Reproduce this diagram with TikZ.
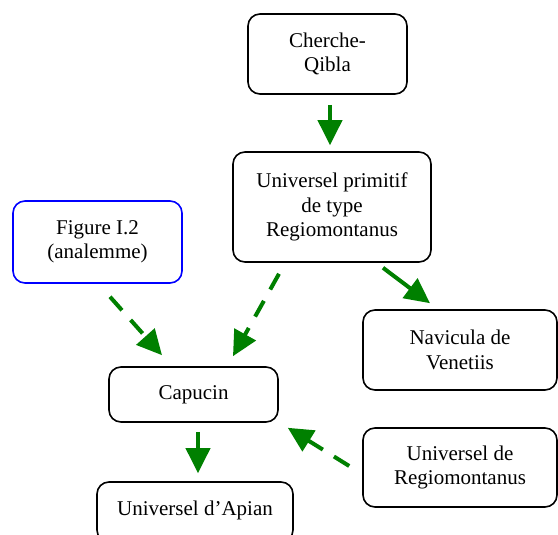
\documentclass[tikz,border=0pt]{standalone}
\usepackage{fontspec}
\setmainfont{Liberation Serif}
\usetikzlibrary{arrows.meta}
\definecolor{arrgreen}{RGB}{0,128,0}
\definecolor{boxblue}{RGB}{0,0,255}
\begin{document}
\begin{tikzpicture}[x=1pt,y=-1pt,
  box/.style={draw=black, line width=1.6pt, rounded corners=12pt, align=center,
    inner sep=0pt, font=\fontsize{21}{24.5}\selectfont},
  arr/.style={draw=arrgreen, line width=4pt, -{Triangle[length=25pt,width=24pt,fill=arrgreen]}},
  darr/.style={arr, dash pattern=on 18pt off 13pt}]
\useasboundingbox (0,0) rectangle (558,535);
\clip (0,0) rectangle (558,535);
\node[box, minimum width=159pt, minimum height=80pt] (cq) at (327.5,54) {Cherche-\\Qibla};
\node[box, minimum width=198pt, minimum height=110pt] (up) at (332,207) {Universel primitif\\de type\\Regiomontanus};
\node[box, draw=boxblue, minimum width=169pt, minimum height=82pt] (fig) at (97.5,242) {Figure I.2\\(analemme)};
\node[box, minimum width=194pt, minimum height=80pt] (nav) at (460,350) {Navicula de\\Venetiis};
\node[box, minimum width=169pt, minimum height=55pt] (cap) at (193.5,394.5) {Capucin};
\node[box, minimum width=194pt, minimum height=79pt] (reg) at (460,467.5) {Universel de\\Regiomontanus};
\node[box, minimum width=196pt, minimum height=60pt] (api) at (195,512) {};
\node[font=\fontsize{21}{24.5}\selectfont, inner sep=0pt, anchor=base] (apitxt) at (195,515) {Universel d’Apian};
\draw[arr] ([xshift=2.5pt,yshift=-10pt]cq.south) -- ([xshift=-2pt,yshift=6pt]up.north);
\draw[arr] ([xshift=51pt,yshift=-5pt]up.south) -- ([xshift=-30pt,yshift=6pt]nav.north);
\draw[darr] ([xshift=-53pt,yshift=-11pt]up.south) -- ([xshift=39.5pt,yshift=10pt]cap.north);
\draw[darr] ([xshift=12.5pt,yshift=-13pt]fig.south) -- ([xshift=-31.5pt,yshift=11pt]cap.north);
\draw[arr] ([xshift=4.5pt,yshift=-9pt]cap.south) -- ([xshift=3pt,yshift=8pt]api.north);
\draw[darr] ([xshift=-13pt,yshift=1.5pt]reg.west) -- ([xshift=9pt,yshift=-5pt]cap.south east);
\end{tikzpicture}
\end{document}
